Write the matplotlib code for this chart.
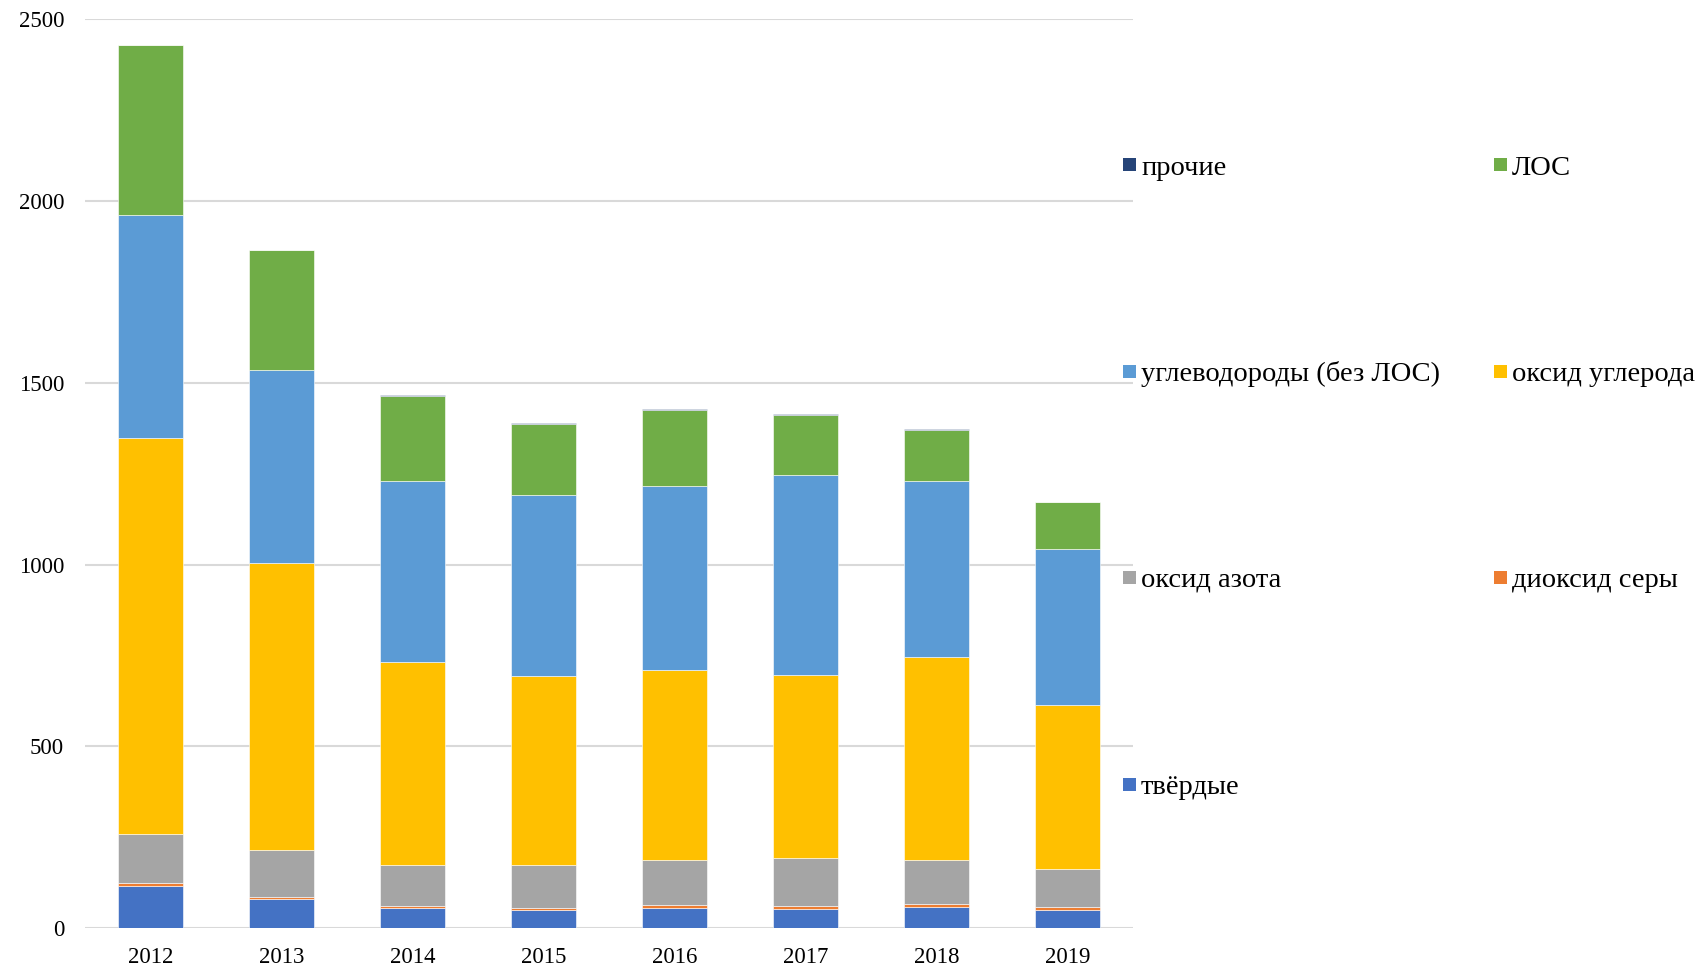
#!/usr/bin/env python3
# Stacked bar chart: emissions by pollutant, 2012-2019

import numpy as np
import matplotlib
matplotlib.use("Agg")
import matplotlib.pyplot as plt
from matplotlib.patches import Rectangle

# --- Data ---
years = ["2012", "2013", "2014", "2015", "2016", "2017", "2018", "2019"]
solid = [116, 81, 54, 50, 56, 53, 59, 50]          # твёрдые
so2 = [7, 4, 6, 6, 7, 8, 6, 7]                      # диоксид серы
nox = [135, 130, 113, 116, 125, 132, 123, 106]      # оксид азота
co = [1089, 788, 560, 520, 522, 502, 558, 451]      # оксид углерода
hc = [614, 533, 497, 499, 505, 550, 484, 428]       # углеводороды (без ЛОС)
voc = [469, 329, 235, 196, 210, 166, 139, 129]      # ЛОС
other = [0, 1, 2, 2, 3, 2, 5, 1]                    # прочие

series = [
    ("твёрдые", solid, "#4472C4"),
    ("диоксид серы", so2, "#ED7D31"),
    ("оксид азота", nox, "#A5A5A5"),
    ("оксид углерода", co, "#FFC000"),
    ("углеводороды (без ЛОС)", hc, "#5B9BD5"),
    ("ЛОС", voc, "#70AD47"),
    ("прочие", other, "#264478"),
]

plt.rcParams['font.family'] = ['Liberation Serif', 'DejaVu Serif']

W, H = 1706, 971
fig = plt.figure(figsize=(W / 100, H / 100), dpi=100)
ax = fig.add_axes([85 / W, 1 - 928 / H, (1133 - 85) / W, (928 - 19.3) / H])

x = np.arange(len(years))
bottom = np.zeros(len(years))
colors = {}
for name, vals, color in series:
    vals = np.array(vals, dtype=float)
    ax.bar(x, vals, width=0.5, bottom=bottom, color=color,
           edgecolor="white", linewidth=0.4, zorder=3)
    bottom += vals
    colors[name] = color

ax.set_xlim(-0.5, len(years) - 0.5)
ax.set_ylim(0, 2500)
ax.set_yticks([0, 500, 1000, 1500, 2000, 2500])
ax.set_xticks(x)
ax.set_xticklabels(years)
ax.tick_params(axis="both", length=0, labelsize=16.5)
ax.tick_params(axis="y", pad=15)
ax.tick_params(axis="x", pad=14)
ax.grid(axis="y", color="#d9d9d9", linewidth=1.5, zorder=0)
for s in ax.spines.values():
    s.set_visible(False)

# --- Legend, two columns filled row by row (placed in pixel coords) ---
legend_rows = [("прочие", "ЛОС"),
               ("углеводороды (без ЛОС)", "оксид углерода"),
               ("оксид азота", "диоксид серы"),
               ("твёрдые", None)]
row_y = [165, 371, 577, 784]
col_x = [1123, 1494]
box = 13
for (left, right), yc in zip(legend_rows, row_y):
    for name, xm in zip((left, right), col_x):
        if name is None:
            continue
        fig.patches.append(Rectangle((xm / W, 1 - (yc + box / 2) / H), box / W, box / H,
                                     transform=fig.transFigure, facecolor=colors[name],
                                     edgecolor="none"))
        fig.text((xm + box + 5) / W, 1 - (yc + 10) / H, name, fontsize=20.5,
                 ha="left", va="baseline", color="black")

fig.savefig("out.png", dpi=100)
